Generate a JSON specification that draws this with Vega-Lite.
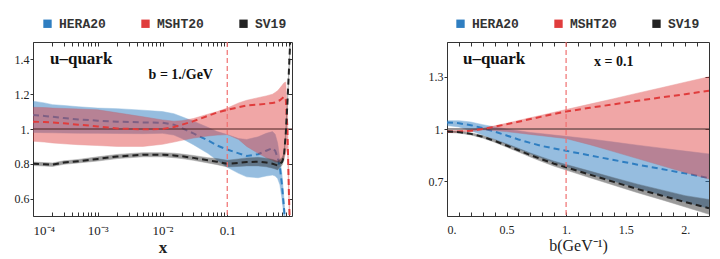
{
  "$schema": "https://vega.github.io/schema/vega-lite/v6.json",
  "padding": {"left": 13, "top": 16, "right": 5, "bottom": 5},
  "background": "white",
  "spacing": 155,
  "bounds": "flush",
  "resolve": {"scale": {"color": "independent"}, "legend": {"color": "independent"}},
  "config": {
    "view": {"stroke": "#333333", "strokeWidth": 1},
    "axis": {"labelFont": "Liberation Serif", "labelFontSize": 12, "labelColor": "#222222", "tickColor": "#333333", "domain": false, "grid": false, "labelOverlap": false, "titleFont": "Liberation Serif", "titleColor": "#222222"},
    "legend": {"orient": "none", "legendX": 8, "legendY": -25, "direction": "horizontal", "symbolType": "square", "symbolSize": 70, "symbolStrokeWidth": 0, "symbolOpacity": 1, "labelFont": "Liberation Mono", "labelFontWeight": "bold", "labelFontSize": 13, "labelColor": "#333333", "columnPadding": 33, "labelOffset": 5, "padding": 0},
    "text": {"font": "Liberation Serif", "fontWeight": "bold", "color": "#111111"}
  },
  "datasets": {
    "left": [
      {"s":"HERA20","x":0.0001,"lo":0.98,"mid":1.08,"hi":1.16},
      {"s":"HERA20","x":0.00015,"lo":0.979,"mid":1.075,"hi":1.15},
      {"s":"HERA20","x":0.0002,"lo":0.978,"mid":1.07,"hi":1.14},
      {"s":"HERA20","x":0.0003,"lo":0.977,"mid":1.063,"hi":1.135},
      {"s":"HERA20","x":0.0005,"lo":0.976,"mid":1.055,"hi":1.128},
      {"s":"HERA20","x":0.001,"lo":0.975,"mid":1.048,"hi":1.12},
      {"s":"HERA20","x":0.002,"lo":0.974,"mid":1.042,"hi":1.117},
      {"s":"HERA20","x":0.005,"lo":0.973,"mid":1.038,"hi":1.108},
      {"s":"HERA20","x":0.01,"lo":0.975,"mid":1.036,"hi":1.1},
      {"s":"HERA20","x":0.015,"lo":0.965,"mid":1.025,"hi":1.088},
      {"s":"HERA20","x":0.02,"lo":0.945,"mid":1.005,"hi":1.07},
      {"s":"HERA20","x":0.03,"lo":0.91,"mid":0.975,"hi":1.045},
      {"s":"HERA20","x":0.05,"lo":0.86,"mid":0.935,"hi":1.01},
      {"s":"HERA20","x":0.07,"lo":0.82,"mid":0.905,"hi":0.985},
      {"s":"HERA20","x":0.1,"lo":0.78,"mid":0.882,"hi":0.968},
      {"s":"HERA20","x":0.15,"lo":0.745,"mid":0.86,"hi":0.945},
      {"s":"HERA20","x":0.2,"lo":0.725,"mid":0.845,"hi":0.94},
      {"s":"HERA20","x":0.3,"lo":0.72,"mid":0.855,"hi":0.955},
      {"s":"HERA20","x":0.4,"lo":0.73,"mid":0.875,"hi":0.975},
      {"s":"HERA20","x":0.5,"lo":0.735,"mid":0.89,"hi":0.985},
      {"s":"HERA20","x":0.55,"lo":0.73,"mid":0.875,"hi":0.97},
      {"s":"HERA20","x":0.6,"lo":0.715,"mid":0.835,"hi":0.92},
      {"s":"HERA20","x":0.65,"lo":0.68,"mid":0.78,"hi":0.83},
      {"s":"HERA20","x":0.7,"lo":0.6,"mid":0.68,"hi":0.74},
      {"s":"HERA20","x":0.75,"lo":0.5,"mid":0.55,"hi":0.6},
      {"s":"HERA20","x":0.8,"lo":0.4,"mid":0.42,"hi":0.45},
      {"s":"MSHT20","x":0.0001,"lo":0.93,"mid":1.042,"hi":1.125},
      {"s":"MSHT20","x":0.00015,"lo":0.925,"mid":1.04,"hi":1.123},
      {"s":"MSHT20","x":0.0002,"lo":0.92,"mid":1.037,"hi":1.12},
      {"s":"MSHT20","x":0.0003,"lo":0.915,"mid":1.033,"hi":1.118},
      {"s":"MSHT20","x":0.0005,"lo":0.91,"mid":1.025,"hi":1.115},
      {"s":"MSHT20","x":0.001,"lo":0.905,"mid":1.015,"hi":1.11},
      {"s":"MSHT20","x":0.002,"lo":0.9,"mid":1.003,"hi":1.093},
      {"s":"MSHT20","x":0.005,"lo":0.9,"mid":0.998,"hi":1.07},
      {"s":"MSHT20","x":0.01,"lo":0.912,"mid":1.0,"hi":1.052},
      {"s":"MSHT20","x":0.015,"lo":0.925,"mid":1.012,"hi":1.045},
      {"s":"MSHT20","x":0.02,"lo":0.935,"mid":1.025,"hi":1.048},
      {"s":"MSHT20","x":0.03,"lo":0.948,"mid":1.045,"hi":1.06},
      {"s":"MSHT20","x":0.05,"lo":0.96,"mid":1.075,"hi":1.085},
      {"s":"MSHT20","x":0.07,"lo":0.965,"mid":1.095,"hi":1.1},
      {"s":"MSHT20","x":0.1,"lo":0.968,"mid":1.11,"hi":1.12},
      {"s":"MSHT20","x":0.15,"lo":0.94,"mid":1.125,"hi":1.15},
      {"s":"MSHT20","x":0.2,"lo":0.9,"mid":1.135,"hi":1.165},
      {"s":"MSHT20","x":0.3,"lo":0.86,"mid":1.14,"hi":1.18},
      {"s":"MSHT20","x":0.4,"lo":0.835,"mid":1.145,"hi":1.19},
      {"s":"MSHT20","x":0.5,"lo":0.82,"mid":1.15,"hi":1.2},
      {"s":"MSHT20","x":0.55,"lo":0.812,"mid":1.152,"hi":1.21},
      {"s":"MSHT20","x":0.6,"lo":0.81,"mid":1.16,"hi":1.22},
      {"s":"MSHT20","x":0.65,"lo":0.81,"mid":1.165,"hi":1.235},
      {"s":"MSHT20","x":0.7,"lo":0.815,"mid":1.175,"hi":1.25},
      {"s":"MSHT20","x":0.75,"lo":0.83,"mid":1.185,"hi":1.265},
      {"s":"MSHT20","x":0.8,"lo":0.86,"mid":1.18,"hi":1.27},
      {"s":"MSHT20","x":0.85,"lo":0.9,"mid":1.0,"hi":1.1},
      {"s":"MSHT20","x":0.9,"lo":0.55,"mid":0.6,"hi":0.65},
      {"s":"MSHT20","x":0.95,"lo":0.3,"mid":0.3,"hi":0.3},
      {"s":"SV19","x":0.0001,"lo":0.79,"mid":0.8,"hi":0.81},
      {"s":"SV19","x":0.00015,"lo":0.787,"mid":0.797,"hi":0.807},
      {"s":"SV19","x":0.0002,"lo":0.785,"mid":0.795,"hi":0.805},
      {"s":"SV19","x":0.0003,"lo":0.797,"mid":0.807,"hi":0.817},
      {"s":"SV19","x":0.0005,"lo":0.805,"mid":0.815,"hi":0.825},
      {"s":"SV19","x":0.001,"lo":0.816,"mid":0.828,"hi":0.84},
      {"s":"SV19","x":0.002,"lo":0.83,"mid":0.842,"hi":0.854},
      {"s":"SV19","x":0.005,"lo":0.84,"mid":0.852,"hi":0.864},
      {"s":"SV19","x":0.01,"lo":0.84,"mid":0.852,"hi":0.864},
      {"s":"SV19","x":0.015,"lo":0.835,"mid":0.848,"hi":0.861},
      {"s":"SV19","x":0.02,"lo":0.83,"mid":0.843,"hi":0.856},
      {"s":"SV19","x":0.03,"lo":0.82,"mid":0.834,"hi":0.848},
      {"s":"SV19","x":0.05,"lo":0.805,"mid":0.82,"hi":0.835},
      {"s":"SV19","x":0.07,"lo":0.795,"mid":0.812,"hi":0.83},
      {"s":"SV19","x":0.1,"lo":0.782,"mid":0.8,"hi":0.82},
      {"s":"SV19","x":0.15,"lo":0.785,"mid":0.805,"hi":0.828},
      {"s":"SV19","x":0.2,"lo":0.788,"mid":0.81,"hi":0.834},
      {"s":"SV19","x":0.3,"lo":0.788,"mid":0.812,"hi":0.837},
      {"s":"SV19","x":0.4,"lo":0.783,"mid":0.807,"hi":0.832},
      {"s":"SV19","x":0.5,"lo":0.775,"mid":0.8,"hi":0.825},
      {"s":"SV19","x":0.55,"lo":0.77,"mid":0.795,"hi":0.82},
      {"s":"SV19","x":0.6,"lo":0.765,"mid":0.79,"hi":0.815},
      {"s":"SV19","x":0.65,"lo":0.78,"mid":0.8,"hi":0.825},
      {"s":"SV19","x":0.7,"lo":0.79,"mid":0.81,"hi":0.835},
      {"s":"SV19","x":0.75,"lo":0.82,"mid":0.84,"hi":0.86},
      {"s":"SV19","x":0.8,"lo":0.95,"mid":0.97,"hi":0.99},
      {"s":"SV19","x":0.85,"lo":1.13,"mid":1.15,"hi":1.17},
      {"s":"SV19","x":0.9,"lo":1.33,"mid":1.35,"hi":1.37},
      {"s":"SV19","x":0.95,"lo":1.53,"mid":1.55,"hi":1.57}
    ],
    "right": [
      {"s":"HERA20","b":0,"lo":1.02,"mid":1.038,"hi":1.048},
      {"s":"HERA20","b":0.1,"lo":1.012,"mid":1.033,"hi":1.048},
      {"s":"HERA20","b":0.2,"lo":0.99,"mid":1.022,"hi":1.04},
      {"s":"HERA20","b":0.3,"lo":0.965,"mid":1.005,"hi":1.025},
      {"s":"HERA20","b":0.4,"lo":0.94,"mid":0.985,"hi":1.012},
      {"s":"HERA20","b":0.5,"lo":0.912,"mid":0.963,"hi":1.0},
      {"s":"HERA20","b":0.6,"lo":0.885,"mid":0.94,"hi":0.99},
      {"s":"HERA20","b":0.7,"lo":0.858,"mid":0.92,"hi":0.98},
      {"s":"HERA20","b":0.8,"lo":0.832,"mid":0.902,"hi":0.973},
      {"s":"HERA20","b":0.9,"lo":0.807,"mid":0.888,"hi":0.965},
      {"s":"HERA20","b":1.0,"lo":0.785,"mid":0.875,"hi":0.958},
      {"s":"HERA20","b":1.2,"lo":0.742,"mid":0.848,"hi":0.943},
      {"s":"HERA20","b":1.4,"lo":0.7,"mid":0.822,"hi":0.925},
      {"s":"HERA20","b":1.6,"lo":0.66,"mid":0.795,"hi":0.907},
      {"s":"HERA20","b":1.8,"lo":0.62,"mid":0.77,"hi":0.89},
      {"s":"HERA20","b":2.0,"lo":0.58,"mid":0.745,"hi":0.873},
      {"s":"HERA20","b":2.2,"lo":0.543,"mid":0.718,"hi":0.857},
      {"s":"MSHT20","b":0,"lo":0.98,"mid":0.985,"hi":0.99},
      {"s":"MSHT20","b":0.1,"lo":0.981,"mid":0.986,"hi":0.991},
      {"s":"MSHT20","b":0.2,"lo":0.985,"mid":0.99,"hi":0.995},
      {"s":"MSHT20","b":0.3,"lo":0.995,"mid":1.0,"hi":1.005},
      {"s":"MSHT20","b":0.4,"lo":0.991,"mid":1.013,"hi":1.018},
      {"s":"MSHT20","b":0.5,"lo":0.985,"mid":1.027,"hi":1.033},
      {"s":"MSHT20","b":0.6,"lo":0.977,"mid":1.042,"hi":1.049},
      {"s":"MSHT20","b":0.7,"lo":0.969,"mid":1.057,"hi":1.065},
      {"s":"MSHT20","b":0.8,"lo":0.961,"mid":1.072,"hi":1.08},
      {"s":"MSHT20","b":0.9,"lo":0.953,"mid":1.087,"hi":1.096},
      {"s":"MSHT20","b":1.0,"lo":0.945,"mid":1.1,"hi":1.112},
      {"s":"MSHT20","b":1.2,"lo":0.91,"mid":1.122,"hi":1.143},
      {"s":"MSHT20","b":1.4,"lo":0.87,"mid":1.142,"hi":1.174},
      {"s":"MSHT20","b":1.6,"lo":0.83,"mid":1.162,"hi":1.206},
      {"s":"MSHT20","b":1.8,"lo":0.79,"mid":1.182,"hi":1.237},
      {"s":"MSHT20","b":2.0,"lo":0.75,"mid":1.2,"hi":1.269},
      {"s":"MSHT20","b":2.2,"lo":0.713,"mid":1.22,"hi":1.3},
      {"s":"SV19","b":0,"lo":0.98,"mid":0.985,"hi":0.99},
      {"s":"SV19","b":0.1,"lo":0.977,"mid":0.982,"hi":0.987},
      {"s":"SV19","b":0.2,"lo":0.966,"mid":0.972,"hi":0.978},
      {"s":"SV19","b":0.3,"lo":0.948,"mid":0.955,"hi":0.962},
      {"s":"SV19","b":0.4,"lo":0.924,"mid":0.932,"hi":0.94},
      {"s":"SV19","b":0.5,"lo":0.896,"mid":0.905,"hi":0.915},
      {"s":"SV19","b":0.6,"lo":0.868,"mid":0.878,"hi":0.889},
      {"s":"SV19","b":0.7,"lo":0.839,"mid":0.85,"hi":0.862},
      {"s":"SV19","b":0.8,"lo":0.812,"mid":0.825,"hi":0.838},
      {"s":"SV19","b":0.9,"lo":0.786,"mid":0.8,"hi":0.815},
      {"s":"SV19","b":1.0,"lo":0.764,"mid":0.78,"hi":0.796},
      {"s":"SV19","b":1.2,"lo":0.72,"mid":0.738,"hi":0.758},
      {"s":"SV19","b":1.4,"lo":0.677,"mid":0.696,"hi":0.72},
      {"s":"SV19","b":1.6,"lo":0.634,"mid":0.655,"hi":0.683},
      {"s":"SV19","b":1.8,"lo":0.594,"mid":0.618,"hi":0.65},
      {"s":"SV19","b":2.0,"lo":0.552,"mid":0.58,"hi":0.617},
      {"s":"SV19","b":2.2,"lo":0.51,"mid":0.545,"hi":0.595}
    ]
  },
  "hconcat": [
    {
      "width": 259,
      "height": 174,
      "data": {"name": "left"},
      "resolve": {"axis": {"x": "independent", "y": "independent"}},
      "layer": [
        {
          "transform": [{"filter": "datum.x == 0.0001"}],
          "mark": {"type": "square", "opacity": 1, "filled": true},
          "encoding": {
            "x": {"field": "x", "type": "quantitative", "axis": null},
            "y": {"field": "mid", "type": "quantitative", "axis": null},
            "size": {"value": 0},
            "color": {"field": "s", "type": "nominal", "scale": {"domain": ["HERA20", "MSHT20", "SV19"], "range": ["#2f7ec1", "#e03c3c", "#222222"]}, "legend": {"title": null}}
          }
        },
        {
          "transform": [{"filter": "datum.s == 'HERA20'"}],
          "mark": {"type": "area", "clip": true, "opacity": 0.5, "stroke": "#2f7ec1", "strokeWidth": 0.7, "strokeOpacity": 0.7},
          "encoding": {
            "x": {"field": "x", "type": "quantitative", "scale": {"type": "log", "domain": [0.0001, 1], "nice": false},
              "axis": {"orient": "bottom", "values": [0.0001,0.0002,0.0003,0.0004,0.0005,0.0006,0.0007,0.0008,0.0009,0.001,0.002,0.003,0.004,0.005,0.006,0.007,0.008,0.009,0.01,0.02,0.03,0.04,0.05,0.06,0.07,0.08,0.09,0.1,0.2,0.3,0.4,0.5,0.6,0.7,0.8,0.9],
                "labelExpr": "datum.value == 0.0001 ? '10⁻⁴' : datum.value == 0.001 ? '10⁻³' : datum.value == 0.01 ? '10⁻²' : datum.value == 0.1 ? '0.1' : ''",
                "tickSize": -4, "labelPadding": 12, "labelFontSize": 13, "title": "x", "titleFontSize": 17, "titleFontWeight": "bold", "titlePadding": 2}},
            "y": {"field": "lo", "type": "quantitative", "scale": {"domain": [0.5, 1.5], "nice": false, "zero": false},
              "axis": {"orient": "left", "values": [0.6, 0.8, 1, 1.2, 1.4], "labelExpr": "datum.value == 1 ? '1.' : format(datum.value, '.1f')", "tickSize": 3, "labelPadding": 1, "title": null}},
            "y2": {"field": "hi"},
            "color": {"field": "s", "type": "nominal", "legend": null}
          }
        },
        {
          "transform": [{"filter": "datum.s == 'HERA20'"}],
          "mark": {"type": "line", "clip": true, "strokeDash": [6, 4], "strokeWidth": 2, "color": "#2f7ec1"},
          "encoding": {
            "x": {"field": "x", "type": "quantitative", "scale": {"type": "log", "domain": [0.0001, 1], "nice": false},
              "axis": {"orient": "top", "values": [0.0001,0.0002,0.0003,0.0004,0.0005,0.0006,0.0007,0.0008,0.0009,0.001,0.002,0.003,0.004,0.005,0.006,0.007,0.008,0.009,0.01,0.02,0.03,0.04,0.05,0.06,0.07,0.08,0.09,0.1,0.2,0.3,0.4,0.5,0.6,0.7,0.8,0.9], "labels": false, "tickSize": -4, "title": null}},
            "y": {"field": "mid", "type": "quantitative", "scale": {"domain": [0.5, 1.5], "nice": false, "zero": false},
              "axis": {"orient": "right", "values": [0.6, 0.8, 1, 1.2, 1.4], "labels": false, "tickSize": -4, "title": null}}
          }
        },
        {
          "transform": [{"filter": "datum.s != 'HERA20'"}],
          "mark": {"type": "area", "clip": true, "opacity": 0.45, "strokeWidth": 0.7, "strokeOpacity": 0.7},
          "encoding": {
            "x": {"field": "x", "type": "quantitative", "axis": null},
            "y": {"field": "lo", "type": "quantitative", "axis": null},
            "y2": {"field": "hi"},
            "color": {"field": "s", "type": "nominal", "legend": null},
            "stroke": {"field": "s", "type": "nominal", "scale": {"domain": ["HERA20", "MSHT20", "SV19"], "range": ["#2f7ec1", "#d02a2a", "#333333"]}, "legend": null}
          }
        },
        {
          "data": {"values": [{}]},
          "mark": {"type": "rule", "color": "#4a2020", "strokeWidth": 1},
          "encoding": {"y": {"datum": 1, "type": "quantitative", "axis": null}}
        },
        {
          "transform": [{"filter": "datum.s != 'HERA20'"}],
          "mark": {"type": "line", "clip": true, "strokeDash": [6, 4], "strokeWidth": 2},
          "encoding": {
            "x": {"field": "x", "type": "quantitative", "axis": null},
            "y": {"field": "mid", "type": "quantitative", "axis": null},
            "color": {"field": "s", "type": "nominal", "legend": null}
          }
        },
        {
          "data": {"values": [{}]},
          "mark": {"type": "rule", "color": "#f07070", "strokeWidth": 1.2, "strokeDash": [5, 3]},
          "encoding": {"x": {"datum": 0.1, "type": "quantitative", "axis": null}}
        },
        {
          "data": {"values": [{}]},
          "mark": {"type": "text", "text": "u–quark", "fontSize": 17, "align": "left", "baseline": "alphabetic"},
          "encoding": {"x": {"datum": 0.000183, "type": "quantitative", "axis": null}, "y": {"datum": 1.372, "type": "quantitative", "axis": null}}
        },
        {
          "data": {"values": [{}]},
          "mark": {"type": "text", "text": "b = 1./GeV", "fontSize": 14, "align": "left", "baseline": "alphabetic"},
          "encoding": {"x": {"datum": 0.0061, "type": "quantitative", "axis": null}, "y": {"datum": 1.285, "type": "quantitative", "axis": null}}
        }
      ]
    },
    {
      "width": 262,
      "height": 174,
      "data": {"name": "right"},
      "resolve": {"axis": {"x": "independent", "y": "independent"}},
      "layer": [
        {
          "transform": [{"filter": "datum.b == 0"}],
          "mark": {"type": "square", "opacity": 1, "filled": true},
          "encoding": {
            "x": {"field": "b", "type": "quantitative", "axis": null},
            "y": {"field": "mid", "type": "quantitative", "axis": null},
            "size": {"value": 0},
            "color": {"field": "s", "type": "nominal", "scale": {"domain": ["HERA20", "MSHT20", "SV19"], "range": ["#2f7ec1", "#e03c3c", "#222222"]}, "legend": {"title": null, "legendX": 7}}
          }
        },
        {
          "transform": [{"filter": "datum.s == 'HERA20'"}],
          "mark": {"type": "area", "clip": true, "opacity": 0.5, "stroke": "#2f7ec1", "strokeWidth": 0.7, "strokeOpacity": 0.7},
          "encoding": {
            "x": {"field": "b", "type": "quantitative", "scale": {"domain": [0, 2.2], "nice": false, "zero": false},
              "axis": {"orient": "bottom", "values": [0,0.1,0.2,0.3,0.4,0.5,0.6,0.7,0.8,0.9,1,1.1,1.2,1.3,1.4,1.5,1.6,1.7,1.8,1.9,2,2.1],
                "labelExpr": "datum.value == 0 ? '0.' : datum.value == 0.5 ? '0.5' : datum.value == 1 ? '1.' : datum.value == 1.5 ? '1.5' : datum.value == 2 ? '2.' : ''",
                "tickSize": -4, "labelPadding": 12, "title": "b(GeV⁻¹)", "titleFontSize": 16, "titleFontWeight": "normal", "titlePadding": 2}},
            "y": {"field": "lo", "type": "quantitative", "scale": {"domain": [0.5, 1.5], "nice": false, "zero": false},
              "axis": {"orient": "left", "values": [0.7, 1, 1.3], "labelExpr": "datum.value == 1 ? '1.' : format(datum.value, '.1f')", "tickSize": 3, "labelPadding": 1, "title": null}},
            "y2": {"field": "hi"},
            "color": {"field": "s", "type": "nominal", "legend": null}
          }
        },
        {
          "transform": [{"filter": "datum.s == 'HERA20'"}],
          "mark": {"type": "line", "clip": true, "strokeDash": [6, 4], "strokeWidth": 2, "color": "#2f7ec1"},
          "encoding": {
            "x": {"field": "b", "type": "quantitative", "scale": {"domain": [0, 2.2], "nice": false, "zero": false},
              "axis": {"orient": "top", "values": [0,0.1,0.2,0.3,0.4,0.5,0.6,0.7,0.8,0.9,1,1.1,1.2,1.3,1.4,1.5,1.6,1.7,1.8,1.9,2,2.1], "labels": false, "tickSize": -4, "title": null}},
            "y": {"field": "mid", "type": "quantitative", "scale": {"domain": [0.5, 1.5], "nice": false, "zero": false},
              "axis": {"orient": "right", "values": [0.7, 1, 1.3], "labels": false, "tickSize": -4, "title": null}}
          }
        },
        {
          "transform": [{"filter": "datum.s != 'HERA20'"}],
          "mark": {"type": "area", "clip": true, "opacity": 0.45, "strokeWidth": 0.7, "strokeOpacity": 0.7},
          "encoding": {
            "x": {"field": "b", "type": "quantitative", "axis": null},
            "y": {"field": "lo", "type": "quantitative", "axis": null},
            "y2": {"field": "hi"},
            "color": {"field": "s", "type": "nominal", "legend": null},
            "stroke": {"field": "s", "type": "nominal", "scale": {"domain": ["HERA20", "MSHT20", "SV19"], "range": ["#2f7ec1", "#d02a2a", "#333333"]}, "legend": null}
          }
        },
        {
          "data": {"values": [{}]},
          "mark": {"type": "rule", "color": "#3a2a2a", "strokeWidth": 1},
          "encoding": {"y": {"datum": 1, "type": "quantitative", "axis": null}}
        },
        {
          "transform": [{"filter": "datum.s != 'HERA20'"}],
          "mark": {"type": "line", "clip": true, "strokeDash": [6, 4], "strokeWidth": 2},
          "encoding": {
            "x": {"field": "b", "type": "quantitative", "axis": null},
            "y": {"field": "mid", "type": "quantitative", "axis": null},
            "color": {"field": "s", "type": "nominal", "legend": null}
          }
        },
        {
          "data": {"values": [{}]},
          "mark": {"type": "rule", "color": "#f07070", "strokeWidth": 1.2, "strokeDash": [5, 3]},
          "encoding": {"x": {"datum": 1, "type": "quantitative", "axis": null}}
        },
        {
          "data": {"values": [{}]},
          "mark": {"type": "text", "text": "u–quark", "fontSize": 17, "align": "left", "baseline": "alphabetic"},
          "encoding": {"x": {"datum": 0.134, "type": "quantitative", "axis": null}, "y": {"datum": 1.373, "type": "quantitative", "axis": null}}
        },
        {
          "data": {"values": [{}]},
          "mark": {"type": "text", "text": "x = 0.1", "fontSize": 14, "align": "left", "baseline": "alphabetic"},
          "encoding": {"x": {"datum": 1.235, "type": "quantitative", "axis": null}, "y": {"datum": 1.36, "type": "quantitative", "axis": null}}
        }
      ]
    }
  ]
}
